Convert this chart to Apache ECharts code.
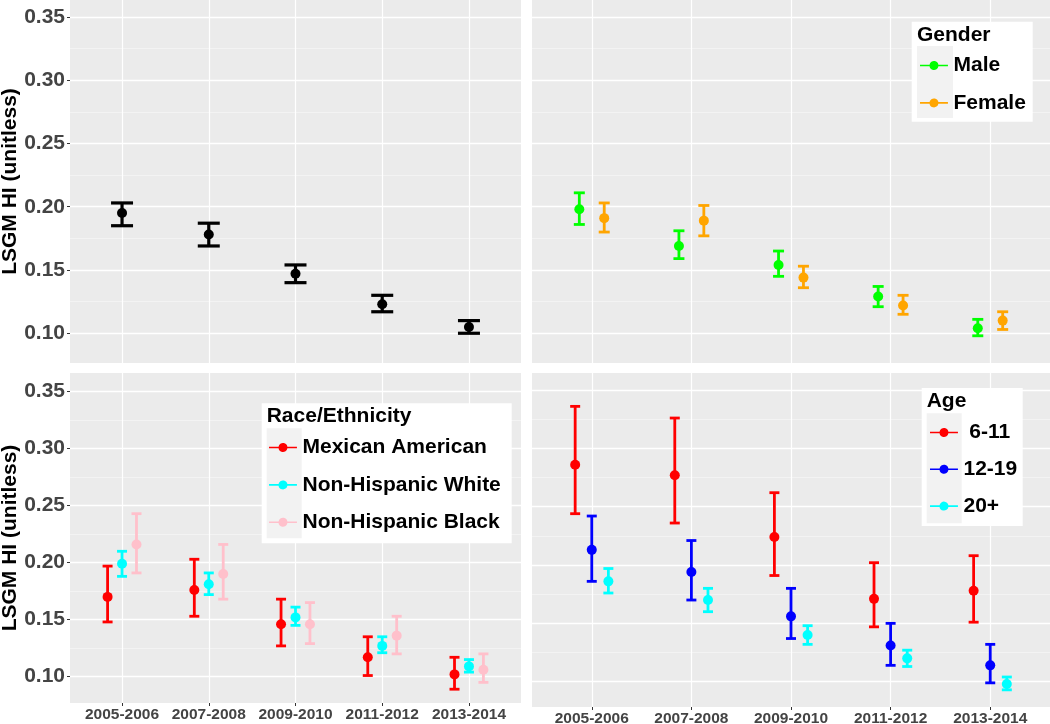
<!DOCTYPE html>
<html><head><meta charset="utf-8">
<script src="https://cdn.jsdelivr.net/npm/echarts@6/dist/echarts.min.js"></script>
<style>html,body{margin:0;padding:0;background:#fff}#c{width:1050px;height:724px}</style>
</head><body><div id="c"></div>
<script>
// ---------- data ----------
const periods = ['2005-2006', '2007-2008', '2009-2010', '2011-2012', '2013-2014'];
const xTicks = [0, 1, 2, 3, 4];
const yMajorTicks = [0.10, 0.15, 0.20, 0.25, 0.30, 0.35];
const yMinorTicks = [0.125, 0.175, 0.225, 0.275, 0.325];

// Overall
const overallMean  = [0.195, 0.178, 0.147, 0.123, 0.105];
const overallLower = [0.185, 0.169, 0.140, 0.117, 0.100];
const overallUpper = [0.203, 0.187, 0.154, 0.130, 0.110];

// Gender
const maleMean    = [0.198, 0.169, 0.154, 0.129, 0.104];
const maleLower   = [0.186, 0.159, 0.145, 0.121, 0.098];
const maleUpper   = [0.211, 0.181, 0.165, 0.137, 0.111];
const femaleMean  = [0.191, 0.189, 0.144, 0.122, 0.110];
const femaleLower = [0.180, 0.177, 0.136, 0.115, 0.103];
const femaleUpper = [0.203, 0.201, 0.153, 0.130, 0.117];

// Race / Ethnicity
const mexMean  = [0.170, 0.176, 0.146, 0.117, 0.102];
const mexLower = [0.148, 0.153, 0.127, 0.101, 0.089];
const mexUpper = [0.197, 0.203, 0.168, 0.135, 0.117];
const nhwMean  = [0.199, 0.181, 0.152, 0.127, 0.109];
const nhwLower = [0.188, 0.172, 0.145, 0.121, 0.104];
const nhwUpper = [0.210, 0.191, 0.161, 0.135, 0.115];
const nhbMean  = [0.216, 0.190, 0.146, 0.136, 0.106];
const nhbLower = [0.191, 0.168, 0.129, 0.120, 0.095];
const nhbUpper = [0.243, 0.216, 0.165, 0.153, 0.120];

// Age
const age611Mean   = [0.286, 0.277, 0.224, 0.171, 0.178];
const age611Lower  = [0.244, 0.236, 0.191, 0.147, 0.151];
const age611Upper  = [0.336, 0.326, 0.262, 0.202, 0.208];
const age1219Mean  = [0.213, 0.194, 0.156, 0.131, 0.114];
const age1219Lower = [0.186, 0.170, 0.137, 0.114, 0.099];
const age1219Upper = [0.242, 0.221, 0.180, 0.150, 0.132];
const age20Mean    = [0.186, 0.170, 0.140, 0.120, 0.098];
const age20Lower   = [0.176, 0.160, 0.132, 0.113, 0.093];
const age20Upper   = [0.197, 0.180, 0.148, 0.127, 0.104];

// ---------- layout / style ----------
const FONT = '"Liberation Sans", Arial, Helvetica, sans-serif';
const gridBoxes = [
  {left: 70,  top: 0,   width: 451, height: 363},
  {left: 532, top: 0,   width: 518, height: 363},
  {left: 70,  top: 373, width: 451, height: 330},
  {left: 532, top: 373, width: 518, height: 334}
];
const yRanges = [[0.0765, 0.3634], [0.0765, 0.3634], [0.0769, 0.3664], [0.0783, 0.3646]];

const grids = gridBoxes.map(g => Object.assign({}, g, {
  show: true, backgroundColor: '#ebebeb', borderWidth: 0, outerBoundsMode: 'none', containLabel: false, z: 0
}));

const xAxes = gridBoxes.map((g, i) => ({
  type: 'value', gridIndex: i, min: -0.6, max: 4.6, z: 1,
  axisLine: {show: false, onZero: false},
  axisTick: {show: i >= 2, customValues: xTicks, length: 3, lineStyle: {color: '#333', width: 1}},
  axisLabel: {show: i >= 2, customValues: xTicks, formatter: v => periods[Math.round(v)],
    fontSize: 15.5, fontWeight: 'bold', color: '#444', margin: 4, fontFamily: FONT},
  splitLine: {show: true, lineStyle: {color: '#ffffff', width: 1.2}}
}));

const yMajor = gridBoxes.map((g, i) => ({
  type: 'value', gridIndex: i, min: yRanges[i][0], max: yRanges[i][1], position: 'left', z: 1,
  axisLine: {show: false, onZero: false},
  axisTick: {show: i % 2 === 0, customValues: yMajorTicks, length: 3, lineStyle: {color: '#333', width: 1}},
  axisLabel: {show: i % 2 === 0, customValues: yMajorTicks, formatter: v => v.toFixed(2),
    fontSize: 21, fontWeight: 'bold', color: '#444', margin: 5, fontFamily: FONT},
  splitLine: {show: true, lineStyle: {color: '#ffffff', width: 1.3}},
  name: i % 2 === 0 ? 'LSGM HI (unitless)' : '',
  nameLocation: 'middle', nameGap: 48,
  nameTextStyle: {fontSize: 21, fontWeight: 'bold', color: '#000', fontFamily: FONT}
}));
const yMinor = gridBoxes.map((g, i) => ({
  type: 'value', gridIndex: i, min: yRanges[i][0], max: yRanges[i][1], position: 'left', z: 1,
  axisLine: {show: false, onZero: false},
  axisTick: {show: false, customValues: yMinorTicks},
  axisLabel: {show: false, customValues: yMinorTicks},
  splitLine: {show: true, lineStyle: {color: '#f5f5f5', width: 0.8}}
}));

const series = [];
function addGroup(name, color, grid, mean, lower, upper, offset, capW, lw, size) {
  series.push({
    type: 'custom', name: name + ' CI', xAxisIndex: grid, yAxisIndex: grid, z: 2,
    data: mean.map((m, i) => [i + offset, lower[i], upper[i]]),
    encode: {x: 0, y: [1, 2]},
    renderItem: (params, api) => {
      const x = api.value(0);
      const pLo = api.coord([x, api.value(1)]);
      const pHi = api.coord([x, api.value(2)]);
      const hw = capW / 2;
      const st = {stroke: color, lineWidth: lw};
      return {type: 'group', children: [
        {type: 'line', shape: {x1: pLo[0], y1: pLo[1], x2: pHi[0], y2: pHi[1]}, style: st},
        {type: 'line', shape: {x1: pLo[0] - hw, y1: pLo[1], x2: pLo[0] + hw, y2: pLo[1]}, style: st},
        {type: 'line', shape: {x1: pHi[0] - hw, y1: pHi[1], x2: pHi[0] + hw, y2: pHi[1]}, style: st}
      ]};
    }
  });
  series.push({
    type: 'scatter', name: name, xAxisIndex: grid, yAxisIndex: grid, z: 3,
    data: mean.map((m, i) => [i + offset, m]),
    symbol: 'circle', symbolSize: size,
    itemStyle: {color: color, opacity: 1}
  });
}
const d3 = 1 / 6;
addGroup('Overall', '#000000', 0, overallMean, overallLower, overallUpper, 0, 22, 3.2, 10);
addGroup('Male', '#00ff00', 1, maleMean, maleLower, maleUpper, -0.125, 11, 2.8, 10);
addGroup('Female', '#ffa500', 1, femaleMean, femaleLower, femaleUpper, 0.125, 11, 2.8, 10);
addGroup('Mexican American', '#ff0000', 2, mexMean, mexLower, mexUpper, -d3, 10, 2.8, 10);
addGroup('Non-Hispanic White', '#00ffff', 2, nhwMean, nhwLower, nhwUpper, 0, 10, 2.8, 10);
addGroup('Non-Hispanic Black', '#ffc0cb', 2, nhbMean, nhbLower, nhbUpper, d3, 10, 2.8, 10);
addGroup('6-11', '#ff0000', 3, age611Mean, age611Lower, age611Upper, -d3, 10, 2.8, 10);
addGroup('12-19', '#0000ff', 3, age1219Mean, age1219Lower, age1219Upper, 0, 10, 2.8, 10);
addGroup('20+', '#00ffff', 3, age20Mean, age20Lower, age20Upper, d3, 10, 2.8, 10);

const ICON = 'path://M0,5.2H9.57A4.5,4.5 0 0 1 18.43,5.2H28V6.8H18.43A4.5,4.5 0 0 1 9.57,6.8H0Z';
function legendOf(names, left, top, gap, fmt) {
  return {
    data: names, left: left, top: top, orient: 'vertical', padding: 0,
    itemWidth: 29, itemHeight: 9, itemGap: gap, icon: ICON, selectedMode: false,
    formatter: fmt || (n => n),
    textStyle: {fontSize: 21, fontWeight: 'bold', color: '#000', fontFamily: FONT}
  };
}
const legends = [
  legendOf(['Male', 'Female'], 920, 55, 16.4),
  legendOf(['Mexican American', 'Non-Hispanic White', 'Non-Hispanic Black'], 269, 437, 16.4),
  legendOf(['6-11', '12-19', '20+'], 930, 422, 15.8, n => (n === '6-11' ? ' ' + n : n))
];
const titleStyle = {fontSize: 21, fontWeight: 'bold', color: '#000', fontFamily: FONT};
const titles = [
  {text: 'Gender', left: 917, top: 25, padding: 0, textStyle: titleStyle},
  {text: 'Race/Ethnicity', left: 266.7, top: 406, padding: 0, textStyle: titleStyle},
  {text: 'Age', left: 926.7, top: 391, padding: 0, textStyle: titleStyle}
];
const rect = (x, y, w, h, fill) => ({type: 'rect', shape: {x: x, y: y, width: w, height: h}, style: {fill: fill}, z: 3, silent: true});
const graphics = [
  rect(911.7, 21.7, 121, 100, '#ffffff'),
  rect(917, 46, 36, 72, '#f2f2f2'),
  rect(261.7, 403.3, 250, 140, '#ffffff'),
  rect(266.7, 428.3, 35, 110, '#f2f2f2'),
  rect(921.7, 388, 101, 138, '#ffffff'),
  rect(926.7, 413.3, 35, 110, '#f2f2f2')
];

const chart = echarts.init(document.getElementById('c'), null, {renderer: 'canvas'});
chart.setOption({
  animation: false,
  backgroundColor: '#ffffff',
  textStyle: {fontFamily: FONT},
  title: titles,
  grid: grids,
  xAxis: xAxes,
  yAxis: yMajor.concat(yMinor),
  legend: legends,
  graphic: {elements: graphics},
  series: series
});
</script>
</body></html>
